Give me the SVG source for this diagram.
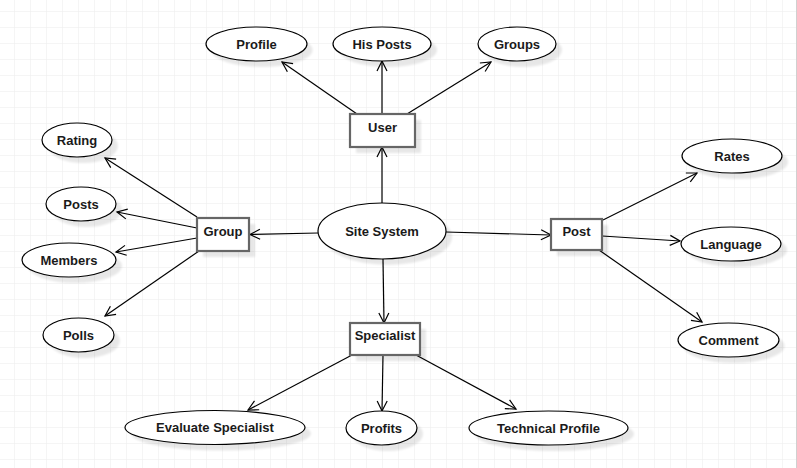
<svg xmlns="http://www.w3.org/2000/svg" width="797" height="468" viewBox="0 0 797 468">
<defs>
<pattern id="grid" x="14" y="11" width="16" height="16" patternUnits="userSpaceOnUse">
<path d="M0,0 H16 M0,0 V16" fill="none" stroke="#ebebeb" stroke-width="1"/>
</pattern>
<marker id="arr" markerUnits="userSpaceOnUse" markerWidth="14" markerHeight="14" refX="11" refY="6" orient="auto">
<path d="M1,1 L11,6 L1,11" fill="none" stroke="#000" stroke-width="1.2"/>
</marker>
<filter id="sh" x="-20%" y="-20%" width="150%" height="160%">
<feGaussianBlur stdDeviation="1"/>
</filter>
</defs>
<style>
.n{fill:#fff;stroke:#000;stroke-width:1.2}
.b{fill:#fff;stroke:#666;stroke-width:2.2}
.s{fill:#000;opacity:0.09;filter:url(#sh)}
.t{font-family:"Liberation Sans",Arial,Helvetica,sans-serif;font-size:13px;font-weight:bold;fill:#1a1a1a;text-anchor:middle;dominant-baseline:central}
.e{fill:none;stroke:#000;stroke-width:1.2;marker-end:url(#arr)}
</style>
<rect x="0" y="0" width="797" height="468" fill="#fff"/>
<rect x="0" y="0" width="797" height="468" fill="url(#grid)"/>
<line x1="796.5" y1="0" x2="796.5" y2="468" stroke="#d0d0d0"/>

<g id="connectors">
<path class="e" d="M357,114 L282,62"/>
<path class="e" d="M382,114 L382,61"/>
<path class="e" d="M407,114 L491,62"/>
<path class="e" d="M382,203 L382,147"/>
<path class="e" d="M318,233 L250,234.5"/>
<path class="e" d="M446,232 L551,235"/>
<path class="e" d="M383,259 L384,323"/>
<path class="e" d="M197,217 L105,158"/>
<path class="e" d="M197,228 L117,212"/>
<path class="e" d="M197,238 L116,252"/>
<path class="e" d="M199,251 L105,316"/>
<path class="e" d="M603,220 L697,173"/>
<path class="e" d="M602,236 L680,241"/>
<path class="e" d="M599,250 L702,322"/>
<path class="e" d="M352,355 L248,410"/>
<path class="e" d="M383,355 L382,411"/>
<path class="e" d="M416,355 L516,409" stroke-width="1.8"/>
</g>

<g id="profile"><ellipse class="s" cx="262" cy="50" rx="50.5" ry="17"/><ellipse class="n" cx="256.5" cy="44" rx="50.5" ry="17"/><text class="t" x="256.5" y="44">Profile</text></g>
<g id="hisposts"><ellipse class="s" cx="388" cy="50" rx="49" ry="17"/><ellipse class="n" cx="382" cy="44" rx="49" ry="17"/><text class="t" x="382" y="44">His Posts</text></g>
<g id="groups"><ellipse class="s" cx="523" cy="50" rx="39" ry="17"/><ellipse class="n" cx="517" cy="44" rx="39" ry="17"/><text class="t" x="517" y="44">Groups</text></g>

<g id="user"><rect class="s" x="356" y="120" width="65" height="33"/><rect class="b" x="350" y="114" width="65" height="33"/><text class="t" x="382.5" y="127">User</text></g>

<g id="sitesystem"><ellipse class="s" cx="388" cy="237" rx="64" ry="28"/><ellipse class="n" cx="382" cy="231" rx="64" ry="28"/><text class="t" x="382" y="231">Site System</text></g>

<g id="group"><rect class="s" x="203" y="224" width="52" height="33"/><rect class="b" x="197" y="218" width="52" height="33"/><text class="t" x="223" y="231">Group</text></g>

<g id="post"><rect class="s" x="557" y="225" width="51" height="31"/><rect class="b" x="551" y="219" width="51" height="31"/><text class="t" x="576.5" y="231">Post</text></g>

<g id="specialist"><rect class="s" x="356" y="329" width="70" height="32"/><rect class="b" x="350" y="323" width="70" height="32"/><text class="t" x="385" y="335">Specialist</text></g>

<g id="rating"><ellipse class="s" cx="83" cy="146" rx="35" ry="17"/><ellipse class="n" cx="77" cy="140" rx="35" ry="17"/><text class="t" x="77" y="140">Rating</text></g>
<g id="posts"><ellipse class="s" cx="87" cy="210" rx="35" ry="17"/><ellipse class="n" cx="81" cy="204" rx="35" ry="17"/><text class="t" x="81" y="204">Posts</text></g>
<g id="members"><ellipse class="s" cx="75" cy="266" rx="47" ry="17"/><ellipse class="n" cx="69" cy="260" rx="47" ry="17"/><text class="t" x="69" y="260">Members</text></g>
<g id="polls"><ellipse class="s" cx="84.5" cy="341" rx="35.5" ry="17"/><ellipse class="n" cx="78.5" cy="335" rx="35.5" ry="17"/><text class="t" x="78.5" y="335">Polls</text></g>

<g id="rates"><ellipse class="s" cx="738" cy="162" rx="50" ry="17"/><ellipse class="n" cx="732" cy="156" rx="50" ry="17"/><text class="t" x="732" y="156">Rates</text></g>
<g id="language"><ellipse class="s" cx="737" cy="250" rx="50" ry="17"/><ellipse class="n" cx="731" cy="244" rx="50" ry="17"/><text class="t" x="731" y="244">Language</text></g>
<g id="comment"><ellipse class="s" cx="734" cy="346" rx="50.5" ry="17"/><ellipse class="n" cx="728.5" cy="340" rx="50.5" ry="17"/><text class="t" x="728.5" y="340">Comment</text></g>

<g id="evaluate"><ellipse class="s" cx="221" cy="433.5" rx="90" ry="17"/><ellipse class="n" cx="215" cy="427.5" rx="90" ry="17"/><text class="t" x="215" y="427.5">Evaluate Specialist</text></g>
<g id="profits"><ellipse class="s" cx="387.5" cy="434" rx="35.5" ry="17"/><ellipse class="n" cx="381.5" cy="428" rx="35.5" ry="17"/><text class="t" x="381.5" y="428">Profits</text></g>
<g id="technical"><ellipse class="s" cx="554.5" cy="434" rx="79.5" ry="17"/><ellipse class="n" cx="548.5" cy="428" rx="79.5" ry="17"/><text class="t" x="548.5" y="428">Technical Profile</text></g>
</svg>
